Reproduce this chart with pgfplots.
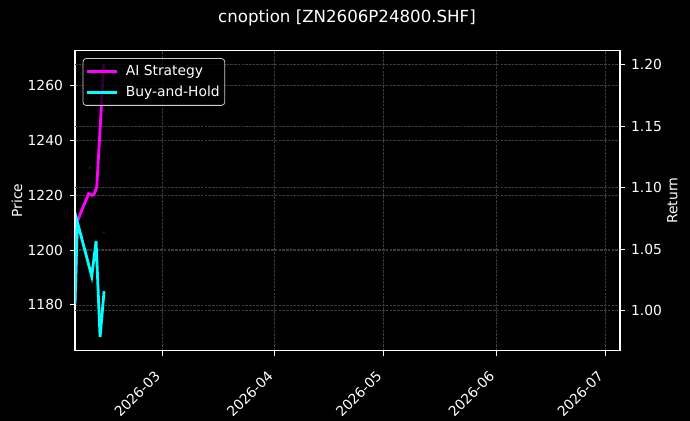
\documentclass[border=0pt]{standalone}
\usepackage{fontspec}
\setmainfont{DejaVu Sans}
\usepackage{pgfplots}
\pgfplotsset{compat=1.18}

\definecolor{gridc}{HTML}{3C3C3C}
\definecolor{aimag}{HTML}{FF00FF}
\definecolor{bhcyan}{HTML}{00FFFF}
\definecolor{sigred}{HTML}{4A0A0A}

\newcommand{\tickfont}{\fontsize{13.9}{16}\selectfont}

\pgfplotsset{
  base/.style={
    at={(75bp,70.3bp)}, anchor=south west, scale only axis,
    width=545bp, height=300bp,
    xmin=35, xmax=185.1,
    axis line style={white, line width=1.1bp},
    tick style={white, line width=1.1bp},
    major tick length=4.9bp,
    tick align=outside,
    major grid style={gridc, line width=0.7bp, dash pattern=on 2.6bp off 1.1bp},
    tick label style={font=\tickfont, text=white},
    label style={font=\tickfont, text=white},
    /pgf/number format/assume math mode=true,
    /pgf/number format/set thousands separator={},
  },
}

\begin{document}
\begin{tikzpicture}
\fill[black] (0,0) rectangle (690bp,421bp);

% price axis (left)
\begin{axis}[base,
  ymin=1163.3, ymax=1272.8,
  ytick={1180,1200,1220,1240,1260},
  xtick={59,90,120,151,181},
  xticklabels={2026-03,2026-04,2026-05,2026-06,2026-07},
  xtick pos=bottom, ytick pos=left,
  xmajorgrids, ymajorgrids,
  xticklabel style={rotate=45, anchor=north east, inner sep=0pt, xshift=-15.6bp, yshift=-4bp},
  yticklabel style={anchor=east, inner sep=0pt, xshift=-7bp},
  ylabel={Price},
  ylabel style={at={(axis description cs:-0.1064,0.5)}, anchor=center},
]
\addplot[only marks, mark=*, mark size=1.1bp, color=sigred] coordinates {
  (39.14,1230.1) (42.93,1206.5)
};
\end{axis}

% return axis (right)
\begin{axis}[base,
  ymin=0.9676, ymax=1.2113,
  ytick={1.00,1.05,1.10,1.15,1.20},
  axis x line=none, axis y line*=right,
  ymajorgrids,
  yticklabel style={anchor=west, inner sep=0pt, xshift=6bp,
    /pgf/number format/.cd, fixed, fixed zerofill, precision=2},
  ylabel={Return},
  ylabel style={at={(axis description cs:1.0963,0.5)}, anchor=center},
  legend cell align=left,
  legend image code/.code={\draw[#1] (0bp,0bp) -- (30bp,0bp); \path (35bp,0bp);},
  legend style={at={(0.0141,0.975)}, anchor=north west,
    fill=black, fill opacity=0.8, text opacity=1, draw=white!80!black,
    rounded corners=3bp, line width=0.8bp, font=\tickfont, text=white,
    inner xsep=3bp, inner ysep=5bp, row sep=5bp},
]
\addplot[aimag, line width=2.8bp] coordinates {
  (35.00,1.006) (35.64,1.0722) (36.85,1.0817) (38.78,1.0952) (39.70,1.0938)
  (40.33,1.0952) (40.99,1.1006) (42.10,1.1573) (42.87,1.2003)
};
\addlegendentry{AI Strategy}
\addplot[bhcyan, line width=2.8bp] coordinates {
  (35.00,1.006) (35.64,1.0722) (39.61,1.0281) (40.80,1.0565) (41.91,0.9787) (43.01,1.016)
};
\addlegendentry{Buy-and-Hold}
\end{axis}

\node[font=\fontsize{16.7}{19}\selectfont, text=white] at (347bp,403bp) {cnoption [ZN2606P24800.SHF]};

\pgfresetboundingbox
\path[use as bounding box] (0,0) rectangle (690bp,421bp);
\end{tikzpicture}
\end{document}
